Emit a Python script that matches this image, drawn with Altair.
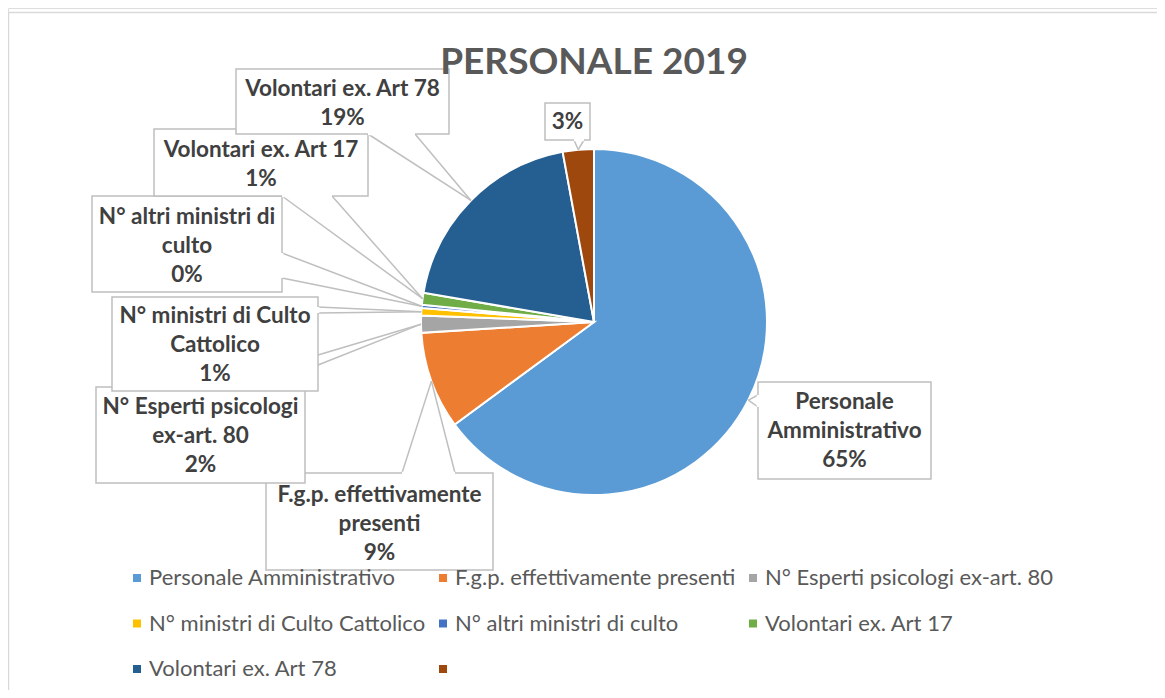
import math
import altair as alt
import pandas as pd

# ---------------- data ----------------
categories = [
    "Personale Amministrativo",
    "F.g.p. effettivamente presenti",
    "N° Esperti psicologi ex-art. 80",
    "N° ministri di Culto Cattolico",
    "N° altri ministri di culto",
    "Volontari ex. Art 17",
    "Volontari ex. Art 78",
    " ",
]
shares = [64.9, 9.1, 1.6, 0.7, 0.3, 1.1, 19.4, 2.9]
label_lines = [
    ["Personale", "Amministrativo"],
    ["F.g.p. effettivamente", "presenti"],
    ["N° Esperti psicologi", "ex-art. 80"],
    ["N° ministri di Culto", "Cattolico"],
    ["N° altri ministri di", "culto"],
    ["Volontari ex. Art 17"],
    ["Volontari ex. Art 78"],
    [],
]
title_text = "PERSONALE 2019"

# ---------------- style / layout ----------------
colors = ["#5B9BD5", "#ED7D31", "#A5A5A5", "#FFC000", "#4472C4", "#70AD47", "#255E91", "#9E480E"]
W, H = 1149, 682
OFF = 8  # page margin
CX, CY, R = 594 - OFF, 322 - OFF, 173
FONT = "Lato"
# callout boxes in page px: x0, y0, x1, y1
boxes = [
    (758, 382, 931, 479),
    (266, 473, 493, 570),
    (96, 387, 305, 483),
    (112, 297, 318, 391),
    (92, 196, 282, 292),
    (154, 129, 368, 196),
    (236, 69, 449, 134),
    (545, 103, 590, 140),
]
first_line_y = [402, 495, 407, 316, 217, 150, 89, 122]
line_h = 29
wedge_base = [
    ((758, 395), (758, 407)),
    ((402, 473), (455, 473)),
    ((318, 355), (318, 365)),
    ((318, 307), (318, 313)),
    ((282, 253), (282, 278)),
    ((282, 196), (332, 196)),
    ((368, 134), (415, 134)),
    ((574, 140), (584, 140)),
]
gap_cover = [True, True, False, True, True, True, True, True]

# ---------------- tables ----------------
pie_df = pd.DataFrame({"cat": categories, "val": shares, "idx": list(range(len(categories)))})

total = sum(shares)
box_rows, line_rows, gap_rows, text_rows = [], [], [], []
cum = 0.0
for i, v in enumerate(shares):
    mid = (cum + v / 2) / total * 2 * math.pi
    cum += v
    tx = CX + R * math.sin(mid)
    ty = CY - R * math.cos(mid)
    x0, y0, x1, y1 = boxes[i]
    box_rows.append({"x": x0 - OFF, "x2": x1 - OFF, "y": y0 - OFF, "y2": y1 - OFF})
    (ax, ay), (bx, by) = wedge_base[i]
    if gap_cover[i]:
        gap_rows.append({"x": ax - OFF, "y": ay - OFF, "x2": bx - OFF, "y2": by - OFF})
    for (qx, qy) in [(ax, ay), (bx, by)]:
        line_rows.append({"x": qx - OFF, "y": qy - OFF, "x2": tx, "y2": ty})
    lines = label_lines[i] + [f"{round(v / total * 100)}%"]
    cxm = (x0 + x1) / 2 - OFF
    for k, t in enumerate(lines):
        text_rows.append({"x": cxm, "y": first_line_y[i] - OFF + k * line_h, "t": t})

box_df = pd.DataFrame(box_rows)
line_df = pd.DataFrame(line_rows)
gap_df = pd.DataFrame(gap_rows)
text_df = pd.DataFrame(text_rows)

px = lambda f: alt.X(f"{f}:Q", scale=None, axis=None)
py = lambda f: alt.Y(f"{f}:Q", scale=None, axis=None)

frame = alt.Chart(pd.DataFrame({"x": [0.5, 0.5], "x2": [0.5, W], "y": [4.5, 4.5], "y2": [H, 4.5]})).mark_rule(
    color="#D9D9D9", strokeWidth=1.5
).encode(x=px("x"), x2="x2", y=py("y"), y2="y2")

pie = alt.Chart(pie_df).mark_arc(radius=R, stroke="white", strokeWidth=2).encode(
    theta=alt.Theta("val:Q", stack=True),
    order=alt.Order("idx:Q"),
    color=alt.Color(
        "cat:N",
        sort=categories,
        scale=alt.Scale(domain=categories, range=colors),
        legend=alt.Legend(
            title=None,
            orient="none",
            legendX=118,
            legendY=559,
            direction="horizontal",
            columns=3,
            symbolType="square",
            symbolSize=64,
            symbolStrokeWidth=0,
            labelFont=FONT,
            labelFontSize=22,
            labelColor="#595959",
            labelOffset=1,
            labelLimit=400,
            columnPadding=6,
            rowPadding=23.5,
            padding=0,
        ),
    ),
    x=alt.value(CX),
    y=alt.value(CY),
)

rects = alt.Chart(box_df).mark_rect(fill="white", stroke="#BFBFBF", strokeWidth=1.5).encode(
    x=px("x"), x2="x2", y=py("y"), y2="y2"
)
gaps = alt.Chart(gap_df).mark_rule(color="white", strokeWidth=2.5).encode(
    x=px("x"), x2="x2", y=py("y"), y2="y2"
)
pointers = alt.Chart(line_df).mark_rule(color="#BFBFBF", strokeWidth=1.5).encode(
    x=px("x"), x2="x2", y=py("y"), y2="y2"
)
texts = alt.Chart(text_df).mark_text(
    font=FONT, fontSize=22.5, fontWeight="bold", color="#404040", baseline="middle", align="center"
).encode(x=px("x"), y=py("y"), text="t:N")

title = alt.Chart(pd.DataFrame({"t": [title_text]})).mark_text(
    font=FONT, fontSize=37, fontWeight="bold", color="#595959", baseline="middle", align="center"
).encode(x=alt.value(594 - OFF), y=alt.value(63 - OFF), text="t:N")

chart = (
    alt.layer(frame, pie, pointers, rects, gaps, texts, title)
    .properties(width=W, height=H, autosize=alt.AutoSizeParams(type="none"), padding=0)
    .configure_view(stroke=None)
    .configure(background="white")
)

chart.save("out.html", embed_options={"renderer": "svg", "actions": False})
